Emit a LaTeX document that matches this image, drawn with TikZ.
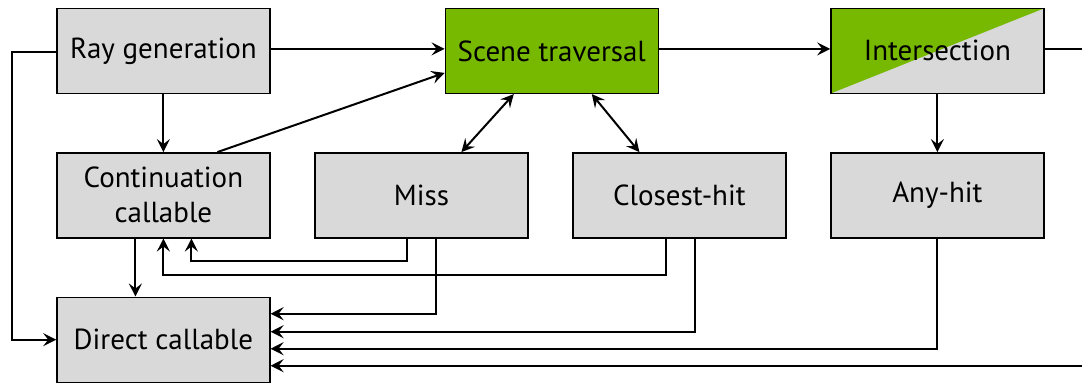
\documentclass[tikz,border=0pt]{standalone}
\usepackage{fontspec}
\setmainfont{PT Sans}
\usetikzlibrary{matrix, positioning, arrows.meta}
\definecolor{nvgreen}{HTML}{76B900}
\definecolor{boxgray}{HTML}{D9D9D9}
\tikzset{
  stage/.style = {draw, line width=1.4pt, fill=boxgray, minimum width=213pt,
    minimum height=85pt, align=center, font=\fontsize{29}{35}\selectfont},
  hwstage/.style = {stage, fill=nvgreen},
  splitstage/.style = {stage, path picture={
      \fill[nvgreen] (path picture bounding box.south west) --
        (path picture bounding box.north west) --
        (path picture bounding box.north east) -- cycle;}},
  link/.style = {line width=2pt, -{Stealth[length=13pt,width=13pt,inset=5pt]}},
  dlink/.style = {line width=2pt, {Stealth[length=13pt,width=13pt,inset=5pt]}-{Stealth[length=13pt,width=13pt,inset=5pt]}},
}
\begin{document}
\begin{tikzpicture}[x=1pt, y=1pt]
\useasboundingbox (0,0) rectangle (1082,-383);
\matrix (m) [column sep = 43.6pt, row sep = 58pt, inner sep=0pt, anchor=north west] at (56,-7.5) {
\node[stage](raygen){Ray generation}; & & & \node[splitstage](isect){Intersection}; \\
\node[stage](cont){Continuation\\callable}; & \node[stage](miss){Miss}; & \node[stage](closest){Closest-hit}; & \node[stage](anyhit){Any-hit}; \\
\node[stage](direct){Direct callable}; & & & \\
};
\node[hwstage, right=174pt of raygen](scene){Scene traversal};
% top row
\draw[link] ([yshift=2pt]raygen.east) -- ([yshift=2pt]scene.west);
\draw[link] ([yshift=2pt]scene.east) -- ([yshift=2pt]isect.west);
\draw[link] (raygen.south) -- (cont.north);
\draw[link] ([xshift=54pt]cont.north) -- ([yshift=-22pt]scene.west);
\draw[dlink] ([xshift=-38pt]scene.south) -- ([xshift=40pt]miss.north);
\draw[dlink] ([xshift=40pt]scene.south) -- ([xshift=-40pt]closest.north);
\draw[link] (isect.south) -- (anyhit.north);
% returns
\draw[link] ([yshift=-1pt]raygen.west) -- ++(-44,0) |- (direct.west);
\draw[link] ([xshift=-28pt]cont.south) -- ([xshift=-28pt]direct.north);
\draw[link] ([xshift=-14pt]miss.south) -- ++(0,-22) -| ([xshift=28pt]cont.south);
\draw[link] ([xshift=-13pt]closest.south) -- ++(0,-36) -| (cont.south);
\draw[link] ([xshift=15pt]miss.south) |- ([yshift=26pt]direct.east);
\draw[link] ([xshift=16pt]closest.south) |- ([yshift=8pt]direct.east);
\draw[link] (anyhit.south) |- ([yshift=-9pt]direct.east);
\draw[link] ([yshift=2pt]isect.east) -- ++(60,0) |- ([yshift=-26pt]direct.east);
\end{tikzpicture}
\end{document}
